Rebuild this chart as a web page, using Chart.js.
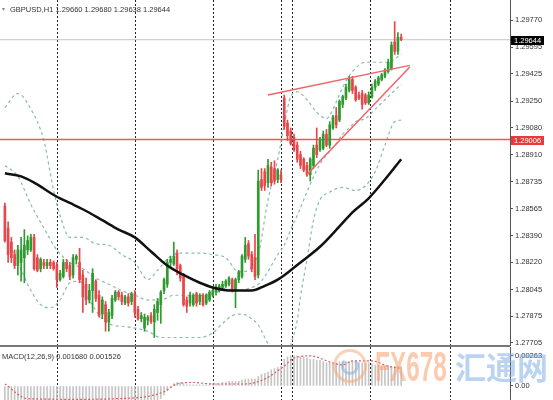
<!DOCTYPE html>
<html>
<head>
<meta charset="utf-8">
<script src="https://cdn.jsdelivr.net/npm/chart.js@4.4.0/dist/chart.umd.min.js"></script>
<style>
html, body { margin: 0; padding: 0; background: #fff; }
#wrap { position: relative; width: 553px; height: 400px; overflow: hidden; font-family: "Liberation Sans", Arial, sans-serif; }
canvas { position: absolute; left: 0; }
#main { top: 0; }
#macd { top: 347px; }
.txt { position: absolute; font-size: 7.5px; line-height: 9px; color: #333; white-space: nowrap; }
</style>
</head>
<body>
<div id="wrap">
  <canvas id="main" width="553" height="347"></canvas>
  <canvas id="macd" width="553" height="53"></canvas>
  <div class="txt" style="left:2px;top:5px;font-size:6px;color:#888;">&#9662;</div>
  <div class="txt" style="left:10px;top:5px;">GBPUSD,H1 1.29660 1.29680 1.29638 1.29644</div>
  <div class="txt" style="left:2px;top:352px;">MACD(12,26,9) 0.001680 0.001526</div>
  <div style="position:absolute;left:333px;top:349px;width:28px;height:28px;border:3px solid rgba(245,165,115,0.5);border-radius:50%;"></div>
  <div style="position:absolute;left:341px;top:357px;width:12px;height:12px;border:3px solid rgba(120,170,230,0.5);border-top-color:transparent;border-radius:50%;"></div>
  <div style="position:absolute;left:375px;top:346px;font:bold 42px/42px 'Liberation Sans';color:rgba(245,160,110,0.55);transform:scaleX(0.58);transform-origin:0 0;">FX678</div>
  <div style="position:absolute;left:455px;top:350px;font:bold 31px/31px 'Noto Sans CJK SC';color:rgba(130,175,230,0.55);">汇通网</div>
</div>
<script>
// candles (H1), one entry per bar
const open = [
  1.2858,1.2844,1.2835,1.2827,1.2820,1.2822,1.2825,1.2830,1.2830,1.2838,
  1.2825,1.2818,1.2822,1.2820,1.2822,1.2822,1.2820,1.2811,1.2813,1.2822,
  1.2820,1.2814,1.2824,1.2822,1.2814,1.2808,1.2798,1.2804,1.2810,1.2801,
  1.2789,1.2795,1.2784,1.2788,1.2798,1.2803,1.2801,1.2796,1.2800,1.2797,
  1.2802,1.2792,1.2786,1.2780,1.2785,1.2788,1.2784,1.2790,1.2795,1.2804,
  1.2808,1.2822,1.2821,1.2828,1.2820,1.2813,1.2798,1.2796,1.2795,1.2802,
  1.2797,1.2801,1.2796,1.2798,1.2801,1.2803,1.2804,1.2806,1.2807,1.2808,
  1.2811,1.2804,1.2811,1.2813,1.2824,1.2834,1.2827,1.2825,1.2814,1.2875,
  1.2880,1.2873,1.2883,1.2882,1.2875,1.2878,1.2927,1.2911,1.2906,1.2902,
  1.2897,1.2891,1.2888,1.2884,1.2878,1.2884,1.2897,1.2894,1.2895,1.2904,
  1.2897,1.2908,1.2916,1.2913,1.2923,1.2927,1.2932,1.2939,1.2934,1.2929,
  1.2930,1.2929,1.2924,1.2928,1.2934,1.2936,1.2939,1.2941,1.2944,1.2946,
  1.2963,1.2957,1.29660
];
const close = [
  1.2836,1.2827,1.2825,1.2820,1.2830,1.2830,1.2833,1.2836,1.2838,1.2818,
  1.2817,1.2824,1.2820,1.2822,1.2820,1.2818,1.2811,1.2815,1.2822,1.2818,
  1.2813,1.2825,1.2826,1.2811,1.2800,1.2798,1.2804,1.2815,1.2799,1.2788,
  1.2798,1.2784,1.2790,1.2799,1.2803,1.2800,1.2797,1.2800,1.2796,1.2802,
  1.2790,1.2786,1.2788,1.2787,1.2787,1.2784,1.2792,1.2797,1.2803,1.2811,
  1.2822,1.2824,1.2826,1.2818,1.2812,1.2795,1.2794,1.2801,1.2801,1.2796,
  1.2801,1.2795,1.2801,1.2803,1.2804,1.2806,1.2807,1.2808,1.2810,1.2812,
  1.2804,1.2811,1.2816,1.2826,1.2833,1.2826,1.2818,1.2813,1.2874,1.2870,
  1.2871,1.2884,1.2873,1.2874,1.2881,1.2875,1.2909,1.2903,1.2898,1.2894,
  1.2888,1.2884,1.2881,1.2878,1.2888,1.2895,1.2891,1.2900,1.2904,1.2897,
  1.2910,1.2915,1.2910,1.2925,1.2928,1.2934,1.2939,1.2932,1.2926,1.2927,
  1.2923,1.2924,1.2929,1.2934,1.2938,1.2940,1.2942,1.2945,1.2950,1.2961,
  1.2957,1.2966,1.29644
];
const high = [
  1.2860,1.2848,1.2838,1.2830,1.2833,1.2838,1.2843,1.2839,1.2840,1.2840,
  1.2827,1.2825,1.2824,1.2824,1.2824,1.2823,1.2822,1.2817,1.2824,1.2824,
  1.2822,1.2827,1.2827,1.2831,1.2817,1.2812,1.2808,1.2818,1.2811,1.2804,
  1.2800,1.2797,1.2792,1.2801,1.2804,1.2804,1.2803,1.2801,1.2802,1.2803,
  1.2804,1.2794,1.2790,1.2789,1.2788,1.2790,1.2795,1.2799,1.2804,1.2812,
  1.2824,1.2826,1.2835,1.2830,1.2821,1.2815,1.2800,1.2803,1.2802,1.2803,
  1.2802,1.2802,1.2802,1.2804,1.2806,1.2808,1.2808,1.2810,1.2811,1.2813,
  1.2812,1.2812,1.2817,1.2827,1.2838,1.2836,1.2829,1.2840,1.2881,1.2882,
  1.2882,1.2888,1.2886,1.2887,1.2882,1.2881,1.2929,1.2913,1.2908,1.2904,
  1.2899,1.2893,1.2889,1.2886,1.2889,1.2897,1.2908,1.2902,1.2906,1.2907,
  1.2912,1.2916,1.2921,1.2926,1.2929,1.2936,1.2941,1.2941,1.2935,1.2931,
  1.2932,1.2930,1.2931,1.2936,1.2939,1.2941,1.2943,1.2946,1.2952,1.2963,
  1.2976,1.2969,1.29680
];
const low = [
  1.2835,1.2822,1.2822,1.2818,1.2814,1.2810,1.2809,1.2827,1.2829,1.2817,
  1.2816,1.2816,1.2818,1.2818,1.2818,1.2817,1.2806,1.2810,1.2812,1.2816,
  1.2811,1.2812,1.2821,1.2809,1.2790,1.2795,1.2796,1.2790,1.2797,1.2787,
  1.2786,1.2778,1.2778,1.2786,1.2797,1.2798,1.2795,1.2795,1.2794,1.2795,
  1.2787,1.2785,1.2784,1.2778,1.2782,1.2783,1.2774,1.2785,1.2783,1.2802,
  1.2806,1.2818,1.2820,1.2814,1.2810,1.2794,1.2790,1.2794,1.2794,1.2794,
  1.2795,1.2794,1.2795,1.2797,1.2800,1.2801,1.2803,1.2804,1.2806,1.2807,
  1.2803,1.2793,1.2809,1.2812,1.2822,1.2824,1.2816,1.2811,1.2812,1.2868,
  1.2868,1.2870,1.2871,1.2872,1.2873,1.2873,1.2907,1.2900,1.2897,1.2893,
  1.2886,1.2882,1.2880,1.2877,1.2874,1.2882,1.2889,1.2893,1.2894,1.2896,
  1.2895,1.2907,1.2908,1.2912,1.2921,1.2926,1.2931,1.2930,1.2925,1.2926,
  1.2920,1.2923,1.2923,1.2927,1.2932,1.2935,1.2938,1.2940,1.2943,1.2945,
  1.2955,1.2955,1.29638
];

// moving average (black)
const maIdx = [0,5,9,16,20,24,30,35,40,45,50,55,60,64,70,76,80,84,88,91,97,103,107,112,117,122];
const maVal = [1.2879,1.2877,1.2873,1.2864,1.2860,1.2856,1.2849,1.2843,1.2838,1.2829,1.2820,1.2814,1.2809,1.2806,1.2804,1.2804,1.2807,1.2811,1.2817,1.2822,1.2832,1.2845,1.2854,1.2863,1.2875,1.2888];

// bollinger bands (dotted)
const bbUpIdx = [0,4,8,12,15,17,20,24,28,32,36,40,44,47,51,54,60,64,68,72,75,78,81,84,86,88,90,93,96,99,101,104,107,111,115,118,122];
const bbUp = [1.2921,1.2930,1.2920,1.2900,1.2868,1.2852,1.2838,1.2838,1.2834,1.2833,1.2827,1.2822,1.2811,1.2817,1.2826,1.2828,1.2828,1.2827,1.2825,1.2816,1.2817,1.2827,1.2862,1.2888,1.2910,1.2928,1.2931,1.2926,1.2918,1.2914,1.2920,1.2934,1.2944,1.2950,1.2950,1.2950,1.2955];
const bbMidIdx = [0,4,8,12,16,20,24,28,32,36,40,44,48,52,56,60,64,68,72,76,78,80,84,86,88,90,92,94,96,98,100,102,104,106,108,111,114,117,120,122];
const bbMid = [1.2884,1.2877,1.2859,1.2844,1.2830,1.2822,1.2818,1.2812,1.2808,1.2804,1.2801,1.2798,1.2798,1.2801,1.2801,1.2801,1.2802,1.2805,1.2804,1.2806,1.2808,1.2813,1.2827,1.2833,1.2843,1.2852,1.2862,1.2872,1.2881,1.2888,1.2893,1.2898,1.2904,1.2908,1.2912,1.2914,1.2920,1.2926,1.2932,1.2936];
const bbLowIdx = [0,4,8,11,14,17,20,23,26,30,33,37,40,44,48,52,56,60,64,67,70,73,76,78,80,82,86,88,90,91,93,95,97,100,104,108,111,114,117,120,122];
const bbLow = [1.2840,1.2822,1.2804,1.2795,1.2793,1.2798,1.2809,1.2810,1.2798,1.2786,1.2782,1.2781,1.2780,1.2778,1.2774,1.2774,1.2774,1.2774,1.2777,1.2783,1.2788,1.2789,1.2786,1.2782,1.2774,1.2766,1.2753,1.2769,1.2785,1.2800,1.2824,1.2849,1.2862,1.2867,1.2870,1.2868,1.2871,1.2880,1.2897,1.2912,1.2913];

// hand drawn wedge lines
const trendTopIdx = [80.96, 124.65];
const trendTop = [1.2929, 1.2948];
const trendBotIdx = [92.96, 124.65];
const trendBot = [1.2878, 1.2947];

const lastPrice = 1.29644;
const levelPrice = 1.29006;
const priceTicks = [1.29770,1.29595,1.29425,1.29250,1.29080,1.28910,1.28735,1.28565,1.28390,1.28220,1.28045,1.27875,1.27705];
const daySeparators = [16, 40, 64, 85, 88.5, 112.5, 137];

// MACD(12,26,9): main as histogram, signal dotted
const macdMain = [
  -0.0015,-0.0018,-0.0021,-0.0024,-0.0025,-0.0026,-0.0026,-0.0026,-0.0026,-0.0027,-0.0027,
  -0.0027,-0.0026,-0.0026,-0.0025,-0.0025,-0.0026,-0.0025,-0.0024,-0.0024,-0.0024,-0.0023,-0.0022,
  -0.0023,-0.0025,-0.0026,-0.0026,-0.0025,-0.0026,-0.0027,-0.0027,-0.0028,-0.0028,-0.0027,-0.0026,
  -0.0025,-0.0024,-0.0023,-0.0022,-0.0021,-0.0021,-0.0021,-0.0021,-0.0021,-0.0020,-0.0019,-0.0017,
  -0.0014,-0.0011,-0.0008,-0.0004,-0.0001,0.0002,0.0003,
  0.0003,0.0002,0.0001,0.0001,0.0001,0.0001,0.0001,0.0001,0.0001,0.0001,0.0002,0.0002,0.0002,0.0003,0.0003,0.0004,0.0004,0.0004,0.0004,0.0005,
  0.0006,0.0006,0.0006,0.0006,0.0008,0.0010,0.0011,0.0012,0.0014,0.0015,0.0016,0.0017,0.0023,
  0.0025,0.0026,0.0026,0.0026,0.0025,0.0025,0.0024,0.0023,0.0023,0.0022,0.0022,0.0021,0.0020,
  0.0020,0.0020,0.0020,0.0021,0.0021,0.0021,0.0021,0.0021,0.0021,0.0020,0.0020,0.0020,0.0020,
  0.0019,0.0018,0.0018,0.0017,0.0017,0.0017,0.0017,0.0017,0.0017,0.00168
];
const macdSignalIdx = [0,7,23,34,44,49,53,58,64,74,80,86,89,94,101,104,107,113,118,122];
const macdSignal = [0.00017,-0.0011,-0.00115,-0.0011,-0.0009,-0.0005,0.00017,0.0003,0.00017,0.00017,0.0006,0.00172,0.00241,0.00259,0.00198,0.00181,0.00216,0.00216,0.0017,0.00153];
const macdTicks = [0.00263, 0];

const X_MIN = -1.5, X_MAX = 155.5;
const UP = '#2f9a2f', DOWN = '#e8464a', BAND = '#86bcb2';

Chart.defaults.font.family = 'Liberation Sans';
Chart.defaults.font.size = 7.5;
Chart.defaults.color = '#333';

function pts(xs, ys) {
    return xs.map(function(x, i) { return { x: x, y: ys[i] }; });
}

function candleColor(ctx) {
    let i = ctx.dataIndex;
    return close[i] >= open[i] ? UP : DOWN;
}

function lineSet(data, color, width, dash, order) {
    return {
        type: 'line', data: data, borderColor: color, borderWidth: width,
        borderDash: dash, pointRadius: 0, fill: false, order: order,
        cubicInterpolationMode: 'monotone'
    };
}

// right price axis, fixed width so both panels line up
function rightAxis(min, max, ticks, fmt) {
    return {
        type: 'linear', position: 'right', min: min, max: max, bounds: 'data',
        afterBuildTicks: function(scale) {
            scale.ticks = ticks.map(function(v) { return { value: v }; });
        },
        afterFit: function(scale) {
            scale.width = 43;
            scale.paddingTop = 0;
            scale.paddingBottom = 0;
        },
        ticks: { callback: fmt, autoSkip: false, padding: 2, color: '#333', align: 'center' },
        grid: { drawOnChartArea: false, drawTicks: true, tickLength: 3, color: '#555' },
        border: { display: true, color: '#555', width: 1 }
    };
}

const xAxis = { type: 'linear', min: X_MIN, max: X_MAX, display: false, offset: false, bounds: 'data' };

// dotted day separators, drawn under the series
const separators = {
    id: 'separators',
    beforeDatasetsDraw(chart) {
        const ctx = chart.ctx;
        ctx.save();
        ctx.strokeStyle = '#222';
        ctx.lineWidth = 1;
        ctx.setLineDash([2, 2]);
        daySeparators.forEach(function(k) {
            let px = Math.round(chart.scales.x.getPixelForValue(k)) + 0.5;
            ctx.beginPath();
            ctx.moveTo(px, 0);
            ctx.lineTo(px, chart.height);
            ctx.stroke();
        });
        ctx.restore();
    }
};

// panel separator and the price tags on the axis
const priceTags = {
    id: 'priceTags',
    afterDraw(chart) {
        const ctx = chart.ctx;
        const area = chart.chartArea;
        ctx.save();
        ctx.fillStyle = '#777';
        ctx.fillRect(0, area.bottom, area.right, 2);
        [[lastPrice, '#000'], [levelPrice, '#e8383c']].forEach(function(tag) {
            let py = chart.scales.y.getPixelForValue(tag[0]);
            ctx.fillStyle = tag[1];
            ctx.fillRect(area.right + 1, Math.round(py) - 4, 33, 9);
            ctx.fillStyle = '#fff';
            ctx.font = '7.5px "Liberation Sans"';
            ctx.textBaseline = 'middle';
            ctx.fillText(tag[0].toFixed(5), area.right + 4, Math.round(py) + 0.5);
        });
        ctx.restore();
    }
};

new Chart(document.getElementById('main'), {
    type: 'bar',
    data: {
        datasets: [
            lineSet(pts([X_MIN, X_MAX], [lastPrice, lastPrice]), '#c4c4c4', 1, [], 9),
            lineSet(pts(bbUpIdx, bbUp), BAND, 1.2, [3, 3], 8),
            lineSet(pts(bbMidIdx, bbMid), BAND, 1.2, [3, 3], 8),
            lineSet(pts(bbLowIdx, bbLow), BAND, 1.2, [3, 3], 8),
            lineSet(pts([X_MIN, X_MAX], [levelPrice, levelPrice]), '#e85a5e', 1.5, [], 7),
            {
                type: 'bar', order: 6, grouped: false, barThickness: 1,
                data: low.map(function(l, i) { return { x: i, y: [l, high[i]] }; }),
                backgroundColor: candleColor
            },
            {
                type: 'bar', order: 5, grouped: false, barThickness: 2, minBarLength: 1,
                data: open.map(function(o, i) { return { x: i, y: [o, close[i]] }; }),
                backgroundColor: candleColor
            },
            lineSet(pts(maIdx, maVal), '#111', 2.5, [], 3),
            lineSet(pts(trendTopIdx, trendTop), '#ef6468', 1.5, [], 2),
            lineSet(pts(trendBotIdx, trendBot), '#ef6468', 1.5, [], 2)
        ]
    },
    options: {
        responsive: false, animation: false, devicePixelRatio: 1, events: [],
        layout: { padding: { top: 0, left: 0, right: 0, bottom: 2 } },
        plugins: { legend: { display: false }, tooltip: { enabled: false } },
        scales: {
            x: xAxis,
            y: rightAxis(1.27692, 1.29898, priceTicks, function(v) { return v.toFixed(5); })
        }
    },
    plugins: [separators, priceTags]
});

new Chart(document.getElementById('macd'), {
    type: 'bar',
    data: {
        datasets: [
            {
                type: 'bar', order: 5, grouped: false, barThickness: 1,
                data: macdMain.map(function(v, i) { return { x: i, y: v }; }),
                backgroundColor: '#c6c6c6'
            },
            lineSet(pts(macdSignalIdx, macdSignal), '#e25c5c', 1.2, [2, 2], 2)
        ]
    },
    options: {
        responsive: false, animation: false, devicePixelRatio: 1, events: [],
        layout: { padding: 0 },
        plugins: { legend: { display: false }, tooltip: { enabled: false } },
        scales: {
            x: xAxis,
            y: rightAxis(-0.00121, 0.00336, macdTicks, function(v) { return v === 0 ? '0.00' : v.toFixed(5); })
        }
    },
    plugins: [separators]
});
</script>
</body>
</html>
